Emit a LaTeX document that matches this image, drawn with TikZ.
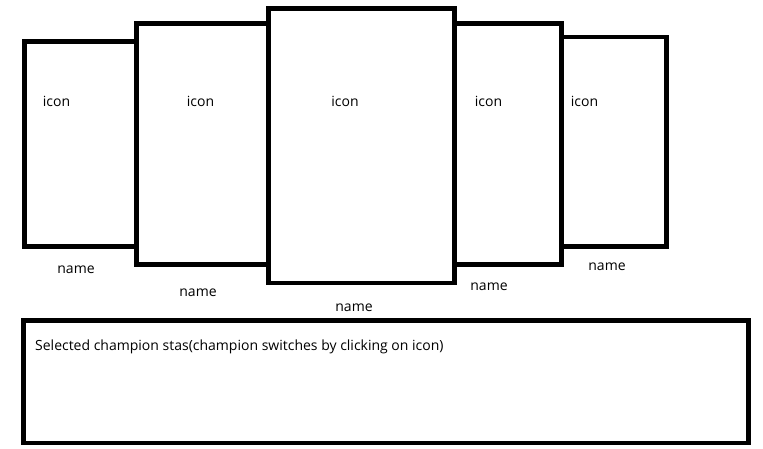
\documentclass[tikz,border=0pt]{standalone}
\usepackage{fontspec}
\setmainfont{Open Sans}
\usetikzlibrary{positioning}

\begin{document}
\begin{tikzpicture}[x=1pt,y=-1pt,
  card/.style={draw=black,fill=white,line width=4.6pt,rectangle,inner sep=0pt},
  lbl/.style={font=\fontsize{14pt}{16pt}\selectfont,inner sep=0pt,anchor=base}]
\useasboundingbox (0,0) rectangle (763,449);

% outer cards first, centre card on top
\node[card,minimum width=112pt,minimum height=204.8pt] (c1) at (80.5,143.9) {};
\node[card,minimum width=105pt,minimum height=209.3pt] (c5) at (613.8,141.65) {};
\node[card,minimum width=132.2pt,minimum height=240.8pt] (c2) at (202.6,143.9) {};
\node[card,minimum width=107pt,minimum height=241pt] (c4) at (507.8,143.8) {};
\node[card,minimum width=185.6pt,minimum height=274.2pt] (c3) at (361.5,145.9) {};

% icons
\node[lbl] (i1) at (56.5,107) {icon};
\node[lbl] (i2) at (200.5,107) {icon};
\node[lbl] (i3) at (345,107) {icon};
\node[lbl] (i4) at (488.5,107) {icon};
\node[lbl] (i5) at (584.5,107) {icon};

% names
\node[lbl] (n1) at (76,273) {name};
\node[lbl] (n2) at (198,296) {name};
\node[lbl] (n3) at (354,311) {name};
\node[lbl] (n4) at (489,290.5) {name};
\node[lbl] (n5) at (607,270.5) {name};

% stats panel
\node[card,minimum width=725pt,minimum height=122.5pt] (stats) at (385.8,381.55) {};
\node[lbl,anchor=base west] (txt) at (35,350) {Selected champion stas(champion switches by clicking on icon)};
\end{tikzpicture}
\end{document}
